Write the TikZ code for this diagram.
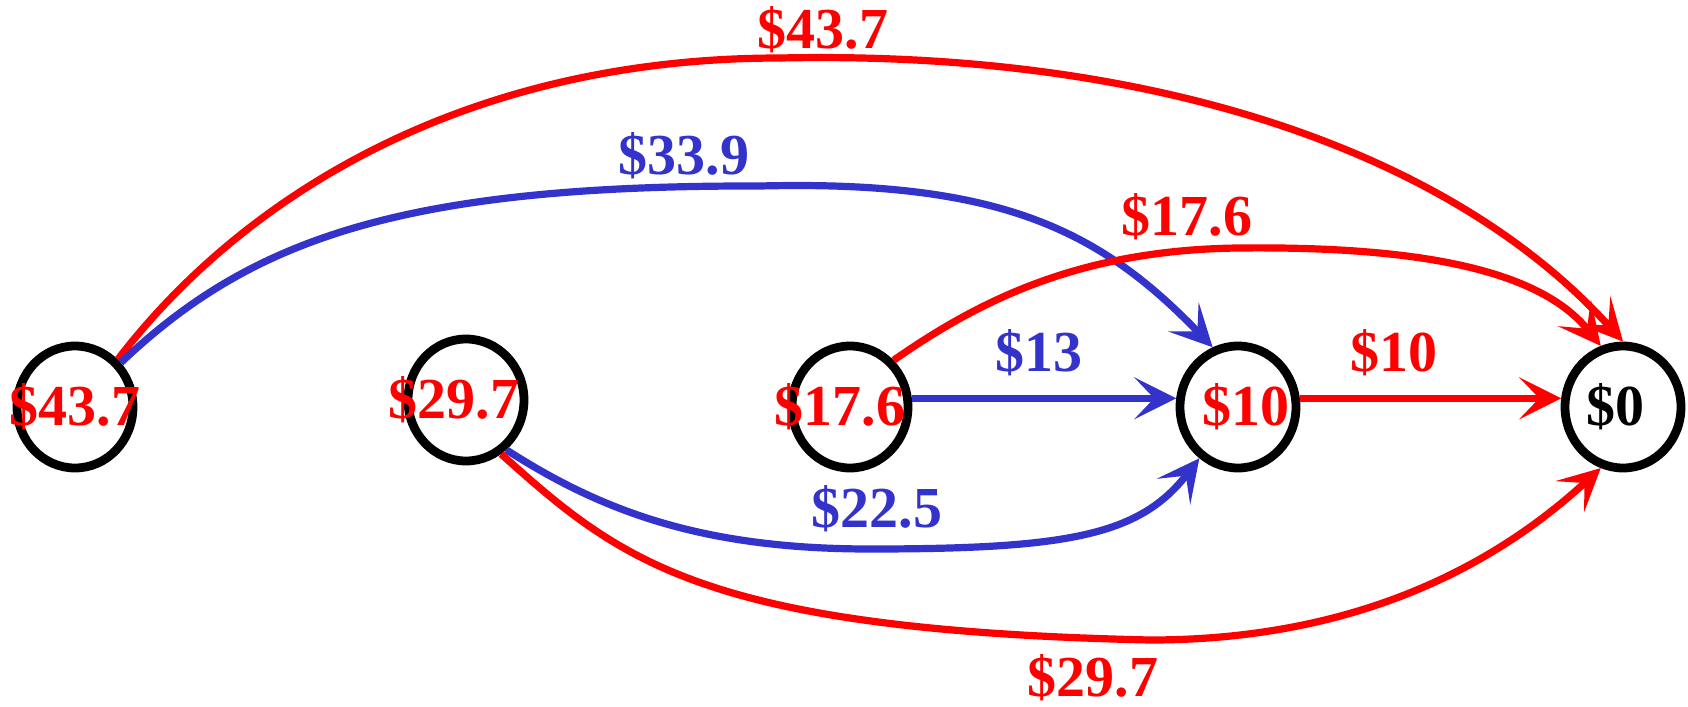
\documentclass[tikz,border=0pt]{standalone}
\usepackage{fontspec}
\setmainfont{Liberation Serif}
\usetikzlibrary{arrows.meta,shapes.geometric}
\definecolor{costblue}{RGB}{51,51,204}
\definecolor{costred}{RGB}{255,0,0}

\begin{document}
\begin{tikzpicture}[x=0.5pt,y=-0.5pt,>={Stealth[length=21pt,width=21pt,inset=10pt]},
  hub/.style={draw=black,line width=4.4pt,ellipse,minimum width=58pt,minimum height=61pt,inner sep=0pt},
  price/.style={font=\fontsize{29}{32}\selectfont\bfseries,inner sep=0pt},
  redarc/.style={draw=costred,line width=3.6pt,->},
  bluearc/.style={draw=costblue,line width=3.6pt,->}]
\useasboundingbox (0,0) rectangle (1688,707);
% stops
\node[hub,label={[price,text=costred]center:\$43.7}] (h1) at (75,407) {};
\node[hub,label={[price,text=costred,xshift=-6pt]center:\$29.7}] (h2) at (466,400) {};
\node[hub,label={[price,text=costred,xshift=-5pt]center:\$17.6}] (h3) at (850,407) {};
\node[hub,label={[price,text=costred,xshift=4pt]center:\$10}] (h4) at (1238,407) {};
\node[hub,label={[price,xshift=-4pt]center:\$0}] (h5) at (1623,407) {};
% arcs
\draw[redarc] (h1.48) .. controls (240,200) and (460,58) .. (780,58) .. controls (1150,50) and (1450,150) .. (h5.90);
\draw[bluearc] (h1.44) .. controls (250,240) and (400,185) .. (760,186) .. controls (1000,180) and (1100,230) .. (h4.113);
\draw[redarc] (h3.47) .. controls (980,300) and (1080,250) .. (1238,248) .. controls (1420,246) and (1540,270) .. (h5.110);
\draw[bluearc] (h3.8) -- (h4.172);
\draw[redarc] (h4.8) -- (h5.172);
\draw[bluearc] (h2.309) .. controls (600,510) and (700,549) .. (870,549) .. controls (1070,549) and (1140,535) .. (h4.233);
\draw[redarc] (h2.303) .. controls (620,560) and (700,630) .. (1150,640) .. controls (1350,640) and (1490,570) .. (h5.250);
% labels
\node[price,text=costred] (c15) at (823,30) {\$43.7};
\node[price,text=costblue] (c14) at (684,156) {\$33.9};
\node[price,text=costred] (c35) at (1187,217) {\$17.6};
\node[price,text=costblue] (c34) at (1039,353) {\$13};
\node[price,text=costred] (c45) at (1394,353) {\$10};
\node[price,text=costblue] (c24) at (877,509) {\$22.5};
\node[price,text=costred] (c25) at (1093,678) {\$29.7};
\end{tikzpicture}
\end{document}
